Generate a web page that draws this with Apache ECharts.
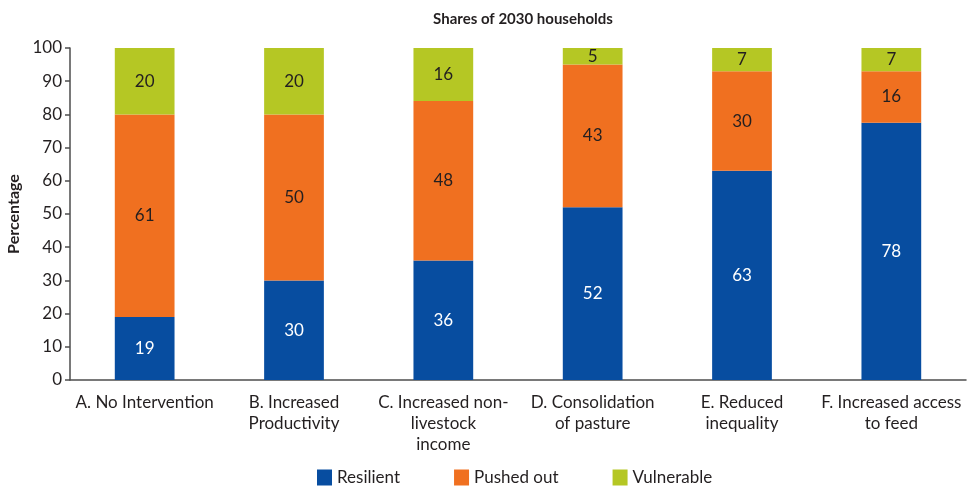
<!DOCTYPE html>
<html>
<head>
<meta charset="utf-8">
<script src="https://cdn.jsdelivr.net/npm/echarts@6/dist/echarts.min.js"></script>
<style>
  html, body { margin: 0; padding: 0; background: #fff; }
  #chart { width: 971px; height: 492px; }
</style>
</head>
<body>
<div id="chart"></div>
<script>
var categories = [
  'A. No Intervention',
  'B. Increased\nProductivity',
  'C. Increased non-\nlivestock\nincome',
  'D. Consolidation\nof pasture',
  'E. Reduced\ninequality',
  'F. Increased access\nto feed'
]
var resilient = [19, 30, 36, 52, 63, 77.5]
var pushedOut = [61, 50, 48, 43, 30, 15.5]
var vulnerable = [20, 20, 16, 5, 7, 7]
var yTicks = [0, 10, 20, 30, 40, 50, 60, 70, 80, 90, 100]

var font = 'Lato'
var axisColor = '#4d4d4d'
var textColor = '#231f20'

function seg (name, data, color, labelColor) {
  return {
    name: name,
    type: 'bar',
    stack: 'total',
    barWidth: '40%',
    data: data,
    itemStyle: { color: color },
    label: {
      show: true,
      position: 'inside',
      color: labelColor,
      fontFamily: font,
      fontSize: 17,
      formatter: function (p) { return Math.round(p.value) }
    }
  }
}

var chart = echarts.init(document.getElementById('chart'))
chart.setOption({
  animation: false,
  textStyle: { fontFamily: font },
  title: {
    text: 'Shares of 2030 households',
    left: 518,
    top: 7,
    textAlign: 'center',
    textStyle: { fontFamily: font, fontSize: 15, fontWeight: 'bold', color: textColor }
  },
  grid: { left: 70, right: 5, top: 48, bottom: 112, outerBoundsMode: 'none' },
  legend: {
    bottom: 1,
    left: 312,
    itemWidth: 15,
    itemHeight: 16,
    itemGap: 54,
    icon: 'rect',
    textStyle: { fontFamily: font, fontSize: 17, color: textColor },
    data: ['Resilient', 'Pushed out', 'Vulnerable']
  },
  xAxis: {
    type: 'category',
    data: categories,
    axisLine: { lineStyle: { color: axisColor, width: 1.5 } },
    axisTick: { length: 6, lineStyle: { color: axisColor, width: 1.5 } },
    axisLabel: {
      interval: 0,
      margin: 12,
      color: textColor,
      fontFamily: font,
      fontSize: 17,
      lineHeight: 21
    }
  },
  yAxis: {
    type: 'value',
    min: yTicks[0],
    max: yTicks[yTicks.length - 1],
    interval: 10,
    name: 'Percentage',
    nameLocation: 'middle',
    nameGap: 46,
    nameTextStyle: { fontFamily: font, fontSize: 16, fontWeight: 'bold', color: textColor },
    axisLine: { show: true, lineStyle: { color: axisColor, width: 1.5 } },
    axisTick: { show: true, length: 5, lineStyle: { color: axisColor, width: 1.5 } },
    splitLine: { show: false },
    axisLabel: { color: textColor, fontFamily: font, fontSize: 17, margin: 8 }
  },
  series: [
    seg('Resilient', resilient, '#074da0', '#ffffff'),
    seg('Pushed out', pushedOut, '#f07020', textColor),
    seg('Vulnerable', vulnerable, '#b5c724', textColor)
  ]
})
</script>
</body>
</html>
